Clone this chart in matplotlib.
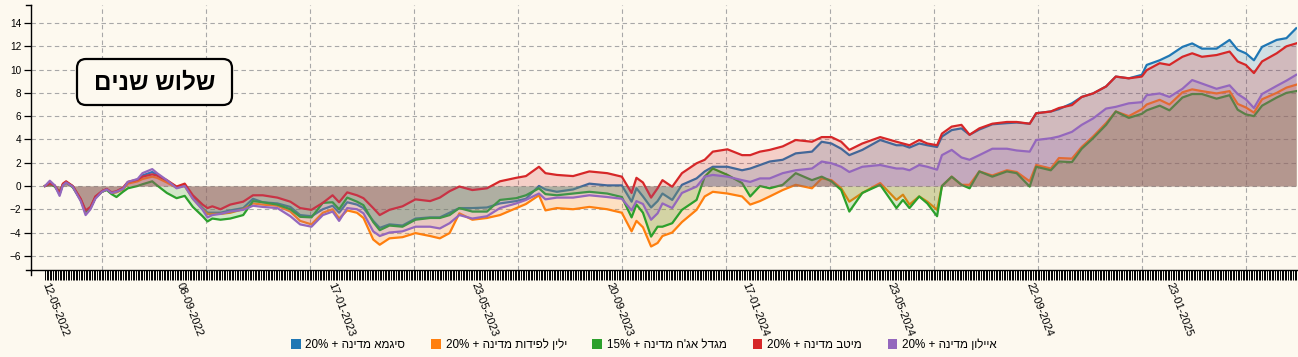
import re
import matplotlib
matplotlib.use("Agg")
import matplotlib.pyplot as plt
from matplotlib.patches import Patch, FancyBboxPatch
from matplotlib.transforms import IdentityTransform

plt.rcParams['font.family'] = ['Liberation Sans', 'DejaVu Sans']

# trading-day index of each sampled point (0 = 12-05-2022)
day_idx = [0, 3, 6, 9, 11, 13, 17, 18, 22, 25,
           28, 31, 35, 38, 41, 44, 48, 51, 57, 60,
           66, 69, 75, 81, 86, 91, 97, 100, 103, 108,
           114, 122, 128, 134, 143, 151, 157, 164, 171, 177,
           181, 186, 192, 196, 202, 206, 212, 220, 228, 237,
           243, 249, 255, 263, 272, 280, 290, 296, 304, 308,
           315, 325, 335, 346, 355, 361, 364, 368, 373, 377,
           380, 386, 392, 401, 406, 411, 420, 429, 434, 440,
           446, 454, 462, 472, 478, 484, 490, 495, 503, 514,
           524, 528, 532, 538, 543, 549, 552, 558, 564, 569,
           575, 583, 592, 598, 606, 610, 619, 624, 632, 638,
           645, 653, 659, 667, 675, 678, 686, 692, 700, 706,
           712, 721, 729, 734, 739, 744, 749, 758, 764, 770]

sigma = [0, 0.25, 0.0, -0.7, 0.1, 0.35, 0.0, -0.25, -1.2, -2.2,
         -1.9, -1.0, -0.5, -0.3, -0.6, -0.5, -0.2, 0.3, 0.5, 0.9,
         1.2, 0.95, 0.4, -0.1, 0.05, -1.0, -1.9, -2.3, -2.3, -2.3,
         -2.1, -1.9, -1.1, -1.4, -1.5, -1.8, -2.5, -2.6, -2.0, -1.7,
         -2.3, -1.4, -1.6, -1.9, -3.0, -3.6, -3.3, -3.4, -2.8, -2.7,
         -2.7, -2.3, -1.9, -1.9, -1.85, -1.5, -1.3, -1.1, 0.0, -0.3,
         -0.5, -0.3, 0.2, 0.05, 0.05, -1.35, -0.2, -0.9, -1.85, -1.3,
         -0.65, -1.2, 0.1, 0.65, 1.25, 1.65, 1.65, 1.35, 1.5, 1.8,
         2.1, 2.25, 2.8, 2.95, 3.8, 3.65, 3.2, 2.65, 3.1, 3.95,
         3.5, 3.5, 3.3, 3.65, 3.5, 3.35, 4.25, 4.8, 4.95, 4.4,
         4.85, 5.3, 5.4, 5.45, 5.35, 6.25, 6.4, 6.6, 7.1, 7.65,
         7.95, 8.55, 9.4, 9.25, 9.55, 10.4, 10.8, 11.2, 11.95, 12.25,
         11.8, 11.8, 12.55, 11.7, 11.4, 10.8, 11.95, 12.55, 12.7, 13.55]

yalin = [0, 0.2, 0.0, -0.6, 0.1, 0.3, -0.05, -0.25, -1.2, -2.3,
         -1.9, -1.0, -0.5, -0.3, -0.6, -0.55, -0.3, 0.2, 0.4, 0.6,
         0.8, 0.7, 0.3, -0.15, 0.0, -1.1, -2.0, -2.4, -2.4, -2.4,
         -2.3, -2.0, -1.5, -1.6, -1.7, -2.2, -3.0, -3.3, -2.3, -2.0,
         -2.8, -2.1, -2.3, -2.75, -4.6, -5.05, -4.5, -4.4, -4.05, -4.3,
         -4.5, -4.05, -2.35, -2.9, -2.75, -2.5, -1.9, -1.55, -0.8, -2.1,
         -1.9, -2.0, -1.8, -2.0, -2.3, -3.9, -3.0, -3.55, -5.2, -4.9,
         -4.3, -4.0, -3.1, -2.05, -0.9, -0.5, -0.65, -0.9, -1.6, -1.3,
         -0.9, -0.35, 0.1, -0.2, 0.65, 0.5, -0.2, -1.35, -0.6, 0.25,
         -1.2, -0.75, -1.6, -0.9, -1.35, -2.05, 0.0, 0.8, 0.1, 0.1,
         1.25, 0.9, 1.35, 1.2, 0.4, 1.8, 1.5, 2.4, 2.35, 3.35,
         4.25, 5.4, 6.4, 6.0, 6.6, 7.0, 7.4, 7.0, 8.05, 8.3,
         8.15, 7.95, 8.15, 7.05, 6.75, 6.3, 7.45, 8.0, 8.45, 8.7]

migdal = [0, 0.15, -0.05, -0.5, 0.1, 0.3, -0.1, -0.3, -1.2, -2.2,
          -1.9, -1.0, -0.5, -0.35, -0.7, -0.95, -0.5, -0.2, 0.0, 0.15,
          0.4, 0.05, -0.6, -1.05, -0.85, -1.8, -2.6, -3.05, -2.8, -2.9,
          -2.8, -2.5, -1.3, -1.4, -1.6, -2.0, -2.65, -2.7, -1.45, -1.4,
          -2.0, -1.0, -1.35, -1.65, -3.1, -3.8, -3.4, -3.5, -2.9, -2.75,
          -2.75, -2.5, -1.9, -2.2, -2.2, -1.2, -1.05, -0.8, -0.2, -0.7,
          -0.8, -0.65, -0.5, -0.65, -0.95, -2.7, -1.6, -2.3, -4.35, -3.5,
          -3.5, -3.2, -2.05, -1.2, 0.8, 1.5, 0.95, 0.25, -0.9, 0.0,
          -0.2, 0.1, 1.1, 0.5, 0.8, 0.4, -0.35, -2.2, -0.6, 0.1,
          -1.9, -1.2, -1.9, -0.9, -1.5, -2.6, 0.0, 0.8, 0.1, -0.2,
          1.25, 0.8, 1.25, 1.1, -0.05, 1.65, 1.35, 2.1, 2.05, 3.2,
          4.1, 5.25, 6.4, 5.85, 6.2, 6.5, 6.9, 6.5, 7.6, 7.9,
          7.9, 7.5, 7.8, 6.55, 6.15, 6.0, 6.9, 7.6, 8.0, 8.15]

meitav = [0, 0.2, 0.05, -0.6, 0.2, 0.4, 0.0, -0.2, -1.1, -2.1,
          -1.8, -0.9, -0.45, -0.25, -0.55, -0.45, -0.15, 0.35, 0.55, 0.8,
          1.0, 0.9, 0.5, -0.05, 0.2, -0.8, -1.6, -1.9, -1.75, -2.0,
          -1.6, -1.35, -0.8, -0.8, -1.0, -1.35, -1.9, -2.05, -1.45, -0.8,
          -1.4, -0.55, -0.8, -1.05, -1.9, -2.5, -2.05, -1.75, -1.15, -1.3,
          -1.0, -0.45, -0.05, -0.35, -0.2, 0.4, 0.7, 0.85, 1.65, 1.1,
          0.95, 0.85, 1.25, 1.1, 0.8, -0.6, 0.7, 0.3, -1.0, -0.2,
          0.5, -0.07, 1.1, 1.95, 2.25, 2.95, 3.15, 2.65, 2.65, 2.95,
          3.1, 3.4, 3.95, 3.8, 4.2, 4.2, 3.8, 3.1, 3.65, 4.2,
          3.8, 3.65, 3.5, 3.95, 3.65, 3.5, 4.5, 5.1, 5.25, 4.4,
          4.95, 5.35, 5.5, 5.5, 5.35, 6.25, 6.4, 6.7, 6.95, 7.65,
          7.95, 8.55, 9.4, 9.25, 9.4, 9.95, 10.55, 10.4, 11.1, 11.4,
          11.1, 11.25, 11.55, 10.7, 10.4, 9.7, 10.7, 11.4, 12.0, 12.25]

ayalon = [0, 0.45, 0.05, -0.85, 0.05, 0.3, -0.05, -0.3, -1.3, -2.5,
          -2.0, -1.1, -0.5, -0.3, -0.6, -0.5, -0.25, 0.35, 0.6, 1.1,
          1.45, 1.1, 0.5, -0.2, 0.0, -1.1, -2.05, -2.7, -2.5, -2.4,
          -2.2, -2.05, -1.7, -1.8, -1.9, -2.6, -3.3, -3.5, -2.5, -2.2,
          -3.0, -1.9, -2.0, -2.35, -3.9, -4.3, -4.0, -3.9, -3.5, -3.5,
          -3.65, -3.2, -2.5, -2.8, -2.6, -1.9, -1.5, -1.2, -0.65, -1.15,
          -1.0, -1.0, -0.8, -0.95, -1.1, -2.1, -1.3, -1.55, -2.9, -2.35,
          -1.5, -1.9, -0.6, -0.05, 0.8, 0.95, 0.8, 0.5, 0.35, 0.65,
          0.65, 1.1, 1.35, 1.5, 2.1, 1.95, 1.65, 1.2, 1.65, 1.8,
          1.5, 1.5, 1.35, 1.8, 1.65, 1.4, 2.65, 3.1, 2.45, 2.25,
          2.65, 3.2, 3.2, 3.05, 2.95, 3.95, 4.1, 4.25, 4.65, 5.25,
          5.8, 6.65, 6.8, 7.1, 7.2, 7.8, 7.95, 7.65, 8.35, 9.1,
          8.8, 8.35, 8.65, 7.9, 7.45, 6.7, 7.9, 8.6, 9.05, 9.55]

series = [sigma, yalin, migdal, meitav, ayalon]
labels = ["סיגמא מדינה + 20%", "ילין לפידות מדינה + 20%", "מגדל אג'ח מדינה + 15%",
          "מיטב מדינה + 20%", "איילון מדינה + 20%"]
colors = ['#1f77b4', '#ff7f0e', '#2ca02c', '#d62728', '#9467bd']

tick_idx = [0, 83, 176, 264, 347, 431, 520, 606, 692]
tick_dates = ["12-05-2022", "08-09-2022", "17-01-2023", "23-05-2023", "20-09-2023",
              "17-01-2024", "23-05-2024", "22-09-2024", "23-01-2025"]
title = "שלוש שנים"


def visual(s):
    # matplotlib has no bidi: reverse the string, keep latin/number runs readable
    r = s[::-1]
    return re.sub(r'[0-9A-Za-z%.]+', lambda m: m.group(0)[::-1], r)


bg = '#fdf9ef'
W, H = 1298, 357
fig = plt.figure(figsize=(W / 100, H / 100), dpi=100)
fig.patch.set_facecolor(bg)
ax = fig.add_axes([31 / W, 87 / H, 1266 / W, 265 / H])
ax.set_facecolor(bg)

# grid (under the areas)
for v in range(-6, 15, 2):
    ax.axhline(v, color='#a8a8a8', lw=0.8, ls=(0, (4, 3)), zorder=0.5)
for g in range(35, 771, 64):
    ax.axvline(g, color='#a8a8a8', lw=0.8, ls=(0, (4, 3)), zorder=0.5)

z = 1
for vals, c in zip(series, colors):
    ax.fill_between(day_idx, 0, vals, color=c, alpha=0.2, lw=0, zorder=z)
    ax.plot(day_idx, vals, color=c, lw=1.6, zorder=z + 0.5)
    z += 1

ax.set_xlim(-8.6, 770.5)
ax.set_ylim(-7.22, 15.55)

ax.set_yticks(range(-6, 15, 2))
ax.tick_params(axis='y', length=5, width=0.9, labelsize=7.2, pad=2, colors='black')

ax.set_xticks(tick_idx)
ax.set_xticklabels(tick_dates)
ax.set_xticks(range(0, 771), minor=True)
ax.tick_params(axis='x', which='both', length=7, width=0.7, color='black', labelsize=8, pad=2)
plt.setp(ax.get_xticklabels(), rotation=-69, ha='left', va='center', rotation_mode='anchor')

for s in ['top', 'right']:
    ax.spines[s].set_visible(False)
for s in ['left', 'bottom']:
    ax.spines[s].set_linewidth(1.0)
    ax.spines[s].set_color('black')

# outer ticks at the axis ends
ax.plot([0, 0], [0, -5 / 265], transform=ax.transAxes, clip_on=False, color='black', lw=1.0)
ax.plot([-5 / 1266, 0], [0, 0], transform=ax.transAxes, clip_on=False, color='black', lw=1.0)
ax.plot([-5 / 1266, 0], [1, 1], transform=ax.transAxes, clip_on=False, color='black', lw=1.0)

# title box
box = FancyBboxPatch((77, H - 105), 155, 46, boxstyle='round,pad=0,rounding_size=9',
                     transform=IdentityTransform(), fc=bg, ec='black', lw=1.6, zorder=10)
fig.patches.append(box)
fig.text(154.5 / W, 1 - 83 / H, visual(title), ha='center', va='center',
         fontsize=17.5, fontweight='bold', zorder=11)

handles = [Patch(facecolor=c, edgecolor='none') for c in colors]
fig.legend(handles, [visual(l) for l in labels], loc='center', bbox_to_anchor=(0.496, 12 / H),
           ncol=5, frameon=False, fontsize=8.4, handlelength=0.85, handleheight=0.85,
           handletextpad=0.4, columnspacing=2.2)

plt.savefig('out.png', dpi=100, facecolor=bg)
